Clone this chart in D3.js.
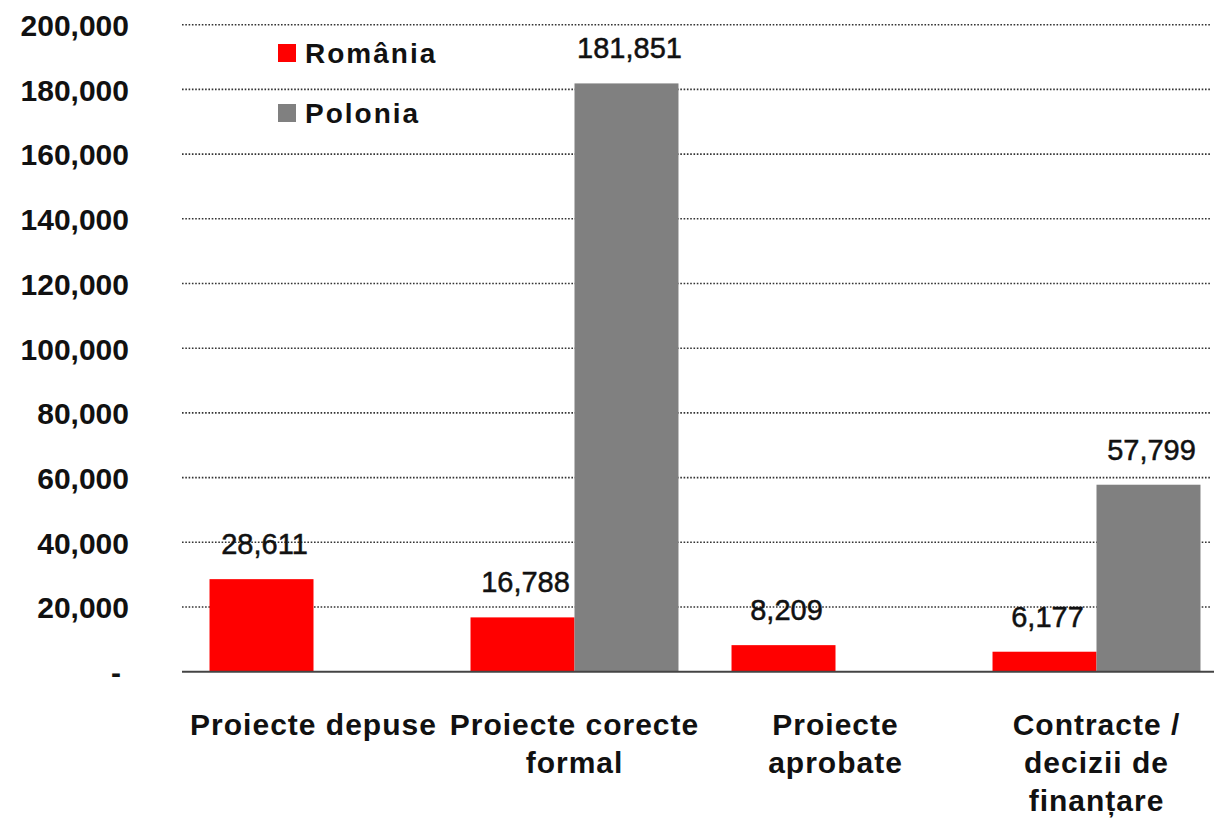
<!DOCTYPE html>
<html>
<head>
<meta charset="utf-8">
<script src="https://cdn.jsdelivr.net/npm/d3@7"></script>
<style>
    body { margin: 0; background: #fff; }
    svg { display: block; font-family: "Liberation Sans", Arial, sans-serif; }
</style>
</head>
<body>
<script>
// data
const categories = ["Proiecte depuse", "Proiecte corecte formal", "Proiecte aprobate", "Contracte / decizii de finanțare"]
const categoryLines = [
    ["Proiecte depuse"],
    ["Proiecte corecte", "formal"],
    ["Proiecte", "aprobate"],
    ["Contracte /", "decizii de", "finanțare"]
]
const series = ["România", "Polonia"]
const romania = [28611, 16788, 8209, 6177]
const polonia = [null, 181851, null, 57799]
const colors = ["#ff0000", "#808080"]
const yTicks = [0, 20000, 40000, 60000, 80000, 100000, 120000, 140000, 160000, 180000, 200000]

const width = 1214, height = 818

// plot area (right side runs off the picture like the original)
const margin = { top: 24.7, left: 183, bottom: 671.7 }
const step = 261

const svg = d3.select("body")
    .append("svg")
    .attr("width", width)
    .attr("height", height)

const x = d3.scaleBand()
    .domain(categories)
    .range([margin.left, margin.left + step * categories.length])
    .padding(0)

const x1 = d3.scaleBand()
    .domain(series)
    .range([0, x.bandwidth()])
    .paddingInner(0)
    .paddingOuter(0.255)

const y = d3.scaleLinear()
    .domain([0, 200000])
    .range([margin.bottom, margin.top])

// dotted gridlines
svg.append("g")
    .selectAll("line")
    .data(yTicks.filter(d => d > 0))
    .join("line")
    .attr("x1", margin.left - 1)
    .attr("x2", 1211)
    .attr("y1", d => y(d))
    .attr("y2", d => y(d))
    .attr("stroke", "#333")
    .attr("stroke-width", 1.6)
    .attr("stroke-dasharray", "1.6,1.7")

// y axis labels
const yAxis = d3.axisLeft(y)
    .tickValues(yTicks)
    .tickSize(0)
    .tickFormat(d => d === 0 ? "-" : d3.format(",")(d))

svg.append("g")
    .attr("transform", "translate(129,0)")
    .call(yAxis)
    .call(g => g.select(".domain").remove())
    .selectAll("text")
    .attr("x", 0)
    .attr("dx", d => d === 0 ? -8 : 0)
    .attr("dy", "0.36em")
    .style("font-size", "30px")
    .style("font-weight", "bold")
    .style("font-family", "'Liberation Sans', Arial, sans-serif")
    .attr("fill", "#111")

// bars
const rows = categories.map((c, i) => ({ cat: c, values: [romania[i], polonia[i]] }))

const groups = svg.append("g")
    .selectAll("g")
    .data(rows)
    .join("g")
    .attr("transform", d => `translate(${x(d.cat)},0)`)

const cells = groups.selectAll("g")
    .data(d => d.values.map((v, j) => ({ key: series[j], value: v, j: j })).filter(e => e.value != null))
    .join("g")

cells.append("rect")
    .attr("x", d => x1(d.key))
    .attr("y", d => y(d.value))
    .attr("width", x1.bandwidth())
    .attr("height", d => y(0) - y(d.value))
    .attr("fill", d => colors[d.j])

// value labels, a touch heavier than regular like the original
cells.append("text")
    .attr("x", d => x1(d.key) + x1.bandwidth() / 2 + 3)
    .attr("y", d => y(d.value) - 25)
    .attr("text-anchor", "middle")
    .style("font-size", "29px")
    .attr("fill", "#111")
    .attr("stroke", "#111")
    .attr("stroke-width", 0.5)
    .text(d => d3.format(",")(d.value))

// base line
svg.append("line")
    .attr("x1", margin.left - 1)
    .attr("x2", width)
    .attr("y1", y(0))
    .attr("y2", y(0))
    .attr("stroke", "#444")
    .attr("stroke-width", 2)

// category labels
svg.append("g")
    .selectAll("text")
    .data(categories)
    .join("text")
    .attr("x", d => x(d) + x.bandwidth() / 2)
    .attr("y", 735)
    .attr("text-anchor", "middle")
    .style("font-size", "30px")
    .style("font-weight", "bold")
    .style("letter-spacing", "1px")
    .attr("fill", "#111")
    .selectAll("tspan")
    .data((d, i) => categoryLines[i])
    .join("tspan")
    .attr("x", function () { return this.parentNode.getAttribute("x") })
    .attr("dy", (d, i) => i === 0 ? 0 : 38)
    .text(d => d)

// legend
const legend = svg.append("g")
    .attr("transform", "translate(278,44)")
    .selectAll("g")
    .data(series)
    .join("g")
    .attr("transform", (d, i) => `translate(0,${i * 60})`)

legend.append("rect")
    .attr("width", 18)
    .attr("height", 18)
    .attr("fill", (d, i) => colors[i])

legend.append("text")
    .attr("x", 27)
    .attr("y", 19)
    .style("font-size", "28px")
    .style("font-weight", "bold")
    .style("letter-spacing", "2px")
    .attr("fill", "#111")
    .text(d => d)
</script>
</body>
</html>
